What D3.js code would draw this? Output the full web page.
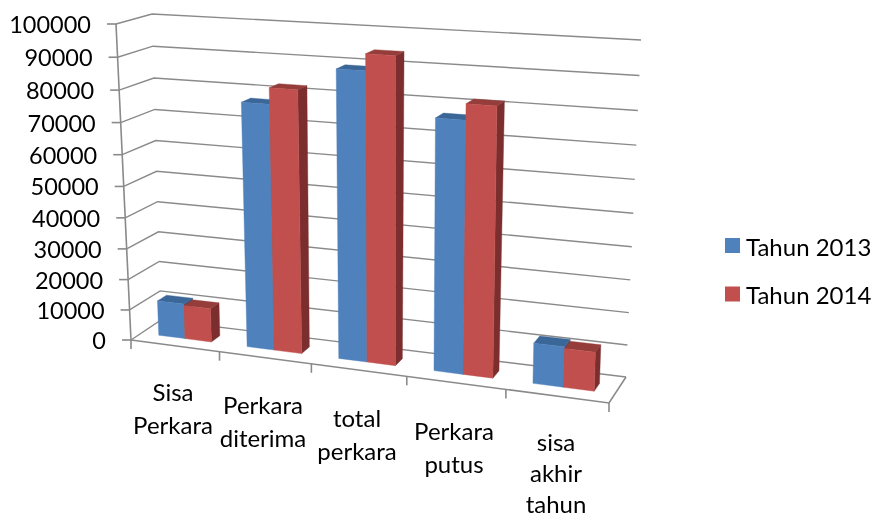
<!DOCTYPE html>
<html lang="en">
<head>
<meta charset="UTF-8">
<title>Perkara 2013 - 2014</title>
<script src="https://cdn.jsdelivr.net/npm/d3@7"></script>
<style>
    html, body { margin: 0; padding: 0; background: #fff; }
    text { font-family: Lato, "Open Sans", sans-serif; fill: #000; }
</style>
</head>
<body>
<div id="vis"></div>
<script>
// data
const categories = ["Sisa Perkara", "Perkara diterima", "total perkara", "Perkara putus", "sisa akhir tahun"];
const categoryLines = [["Sisa", "Perkara"], ["Perkara", "diterima"], ["total", "perkara"], ["Perkara", "putus"], ["sisa", "akhir", "tahun"]];
const seriesNames = ["Tahun 2013", "Tahun 2014"];
const tahun2013 = [11500, 77500, 89500, 77200, 12500];
const tahun2014 = [11000, 82500, 94500, 82000, 12000];
const yTicks = d3.range(0, 100001, 10000);

const faceColors = [
    {front: "#4f81bd", top: "#3b6698", side: "#2f5480"},
    {front: "#c0504d", top: "#943c3a", side: "#7b2f2e"}
];

const width = 876, height = 515;

// corners of the 3d box as it lands on the page (f/b = front/back, l/r = left/right, 0/1 = floor/top)
const box = {
    fl0: [131, 340], fr0: [609, 403], bl0: [161, 320], br0: [626, 377],
    fl1: [116, 24],  fr1: [618, 56],  bl1: [152, 14],  br1: [641, 40]
};

// perspective squeeze along an axis
const warp = (t, k) => t / (t + k * (1 - t));
const lerp = (a, b, t) => [a[0] + (b[0] - a[0]) * t, a[1] + (b[1] - a[1]) * t];

const xCat = d3.scaleBand().domain(categories).range([0, 1]).paddingInner(0.4).paddingOuter(0.2);
const xSer = d3.scaleBand().domain(seriesNames).range([0, xCat.bandwidth()]);
const yVal = d3.scaleLinear().domain([0, 100000]).range([0, 1]);

// u along categories, v into the depth, w = value fraction
function project(u, v, w) {
    const tu = warp(u, 1.1), tw = warp(w, 1.058);
    const floor = lerp(lerp(box.fl0, box.fr0, tu), lerp(box.bl0, box.br0, tu), v);
    const top = lerp(lerp(box.fl1, box.fr1, tu), lerp(box.bl1, box.br1, tu), v);
    return lerp(floor, top, tw);
}

const svg = d3.select("#vis").append("svg")
    .attr("width", width).attr("height", height);

// the reference is a soft, upscaled picture
const defs = svg.append("defs");
defs.append("filter").attr("id", "soft")
    .append("feGaussianBlur").attr("stdDeviation", 0.5);
defs.append("filter").attr("id", "softText")
    .attr("x", "-5%").attr("y", "-5%").attr("width", "110%").attr("height", "110%")
    .append("feGaussianBlur").attr("stdDeviation", 0.3);

const chart = svg.append("g").attr("filter", "url(#soft)");
const labels = svg.append("g").attr("filter", "url(#softText)");
const line = d3.line();
const axisColor = "#8a8a8a";

// gridlines: side wall, then back wall
chart.selectAll("path.grid").data(yTicks).join("path")
    .attr("class", "grid")
    .attr("fill", "none").attr("stroke", axisColor).attr("stroke-width", 1.4)
    .attr("d", d => line([project(0, 0, yVal(d)), project(0, 1, yVal(d)), project(1, 1, yVal(d))]));

// value axis and its ticks
chart.append("path")
    .attr("fill", "none").attr("stroke", axisColor).attr("stroke-width", 1.6)
    .attr("d", line([project(0, 0, 0), project(0, 0, 1)]));
chart.selectAll("line.ytick").data(yTicks).join("line")
    .attr("class", "ytick").attr("stroke", axisColor).attr("stroke-width", 1.6)
    .attr("x1", d => project(0, 0, yVal(d))[0] - 9)
    .attr("x2", d => project(0, 0, yVal(d))[0])
    .attr("y1", d => project(0, 0, yVal(d))[1])
    .attr("y2", d => project(0, 0, yVal(d))[1]);

// floor front and right edges, category ticks
chart.append("path")
    .attr("fill", "none").attr("stroke", axisColor).attr("stroke-width", 1.6)
    .attr("d", line([project(0, 0, 0), project(1, 0, 0), project(1, 1, 0)]));
chart.selectAll("line.xtick").data(d3.range(0, 6)).join("line")
    .attr("class", "xtick").attr("stroke", axisColor).attr("stroke-width", 1.6)
    .attr("x1", d => project(d / 5, 0, 0)[0])
    .attr("x2", d => project(d / 5, 0, 0)[0])
    .attr("y1", d => project(d / 5, 0, 0)[1])
    .attr("y2", d => project(d / 5, 0, 0)[1] + 9);

// bars
const v0 = 0.35, v1 = 0.65;
[tahun2013, tahun2014].forEach((values, s) => {
    const g = chart.append("g").attr("class", "series-" + s);
    categories.forEach((cat, i) => {
        const u0 = xCat(cat) + xSer(seriesNames[s]);
        const u1 = u0 + xSer.bandwidth();
        const w = yVal(values[i]);
        const quad = (pts, fill) => g.append("path")
            .attr("fill", fill).attr("stroke", fill).attr("stroke-width", 0.4)
            .attr("d", line(pts) + "Z");
        quad([project(u1, v0, 0), project(u1, v1, 0), project(u1, v1, w), project(u1, v0, w)], faceColors[s].side);
        quad([project(u0, v0, w), project(u1, v0, w), project(u1, v1, w), project(u0, v1, w)], faceColors[s].top);
        quad([project(u0, v0, 0), project(u1, v0, 0), project(u1, v0, w), project(u0, v0, w)], faceColors[s].front);
    });
});

// value labels
labels.selectAll("text.ylabel").data(yTicks).join("text")
    .attr("class", "ylabel")
    .attr("text-anchor", "end")
    .attr("font-size", 23.5)
    .attr("dominant-baseline", "central")
    .attr("x", d => project(0, 0, yVal(d))[0] - 25)
    .attr("y", d => project(0, 0, yVal(d))[1])
    .text(d => d);

// category labels, stepping down with the slanted floor
const labelLine = [33, 33, 33, 33, 31];
const labelTop = [391, 404, 417, 430, 441];
const labelX = [173, 263, 357, 454, 556];
categoryLines.forEach((lines, i) => {
    lines.forEach((txt, j) => {
        labels.append("text")
            .attr("class", "xlabel")
            .attr("text-anchor", "middle")
            .attr("dominant-baseline", "central")
            .attr("font-size", 24)
            .attr("x", labelX[i])
            .attr("y", labelTop[i] + j * labelLine[i])
            .text(txt);
    });
});

// legend
const legend = labels.selectAll("g.legend").data(seriesNames).join("g")
    .attr("class", "legend")
    .attr("transform", (d, i) => "translate(725," + (238 + i * 48.5) + ")");
legend.append("rect").attr("width", 15).attr("height", 15)
    .attr("fill", (d, i) => faceColors[i].front);
legend.append("text")
    .attr("x", 21).attr("y", 8)
    .attr("dominant-baseline", "central")
    .attr("font-size", 24)
    .text(d => d);
</script>
</body>
</html>
